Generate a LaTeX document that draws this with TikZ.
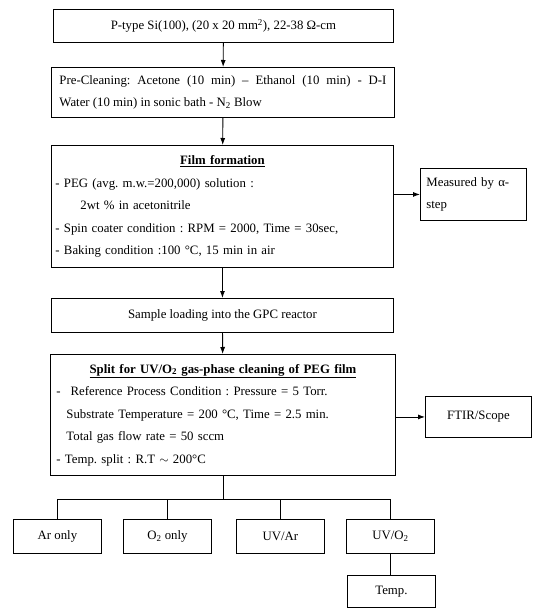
\documentclass[tikz,border=0pt]{standalone}
\usepackage{fontspec}
\setmainfont{Liberation Serif}
\usetikzlibrary{arrows.meta, positioning}

\begin{document}
\frenchspacing
\begin{tikzpicture}[x=1pt, y=-1pt,
    box/.style={draw, line width=0.9pt, inner sep=0pt, anchor=north west,
        font=\fontsize{12.8}{22.5}\selectfont},
    leaf/.style={box, minimum width=88pt, minimum height=34pt},
    flow/.style={-{Latex[length=7pt, width=5pt]}, line width=0.9pt}]
    \useasboundingbox (0,0) rectangle (538,609);

    % main column
    \node[box, minimum width=340pt, minimum height=33pt] (wafer) at (53,9)
        {P-type Si(100), (20 x 20 mm\textsuperscript{2}), 22-38 Ω-cm};
    \node[box, minimum width=343pt, minimum height=50pt, text width=327pt, align=justify] (preclean) at (51,67)
        {Pre-Cleaning: Acetone (10 min) -- Ethanol (10 min) - \mbox{D-I}\linebreak
         Water (10 min) in sonic bath - N\textsubscript{2} Blow};
    \node[box, minimum width=342pt, minimum height=122pt, text width=334pt, align=left] (film) at (51,145)
        {\makebox[334pt][c]{\textbf{\underline{Film formation}}}\\
         - PEG (avg. m.w.=200,000) solution :\\
         \hspace*{25pt}2wt \% in acetonitrile\\
         - Spin coater condition : RPM = 2000, Time = 30sec,\\
         - Baking condition :100 °C, 15 min in air};
    \node[box, minimum width=342pt, minimum height=34pt] (loading) at (51,298)
        {Sample loading into the GPC reactor};
    \node[box, minimum width=345pt, minimum height=121pt, text width=333pt, align=left] (split) at (50,354)
        {\makebox[333pt][c]{\textbf{\underline{Split for UV/O\textsubscript{2} gas-phase cleaning of PEG film}}}\\
         -\hspace{10pt}Reference Process Condition : Pressure = 5 Torr.\\
         \hspace*{10pt}Substrate Temperature = 200 °C, Time = 2.5 min.\\
         \hspace*{10pt}Total gas flow rate = 50 sccm\\
         - Temp. split : R.T $\sim$ 200°C};

    % side boxes
    \node[box, minimum width=106pt, minimum height=52pt, text width=94pt, align=left] (alpha) at (420,168)
        {Measured by α-\\ step};
    \node[box, minimum width=106pt, minimum height=41pt] (ftir) at (425,396) {FTIR/Scope};

    % split conditions
    \node[leaf] (ar) at (13,519) {Ar only};
    \node[leaf] (oxy) at (123,519) {O\textsubscript{2} only};
    \node[leaf] (uvar) at (236,519) {UV/Ar};
    \node[leaf] (uvox) at (346,519) {UV/O\textsubscript{2}};
    \node[leaf, minimum height=32pt] (temp) at (347,575) {Temp.};

    \draw[flow] (wafer) -- (preclean);
    \draw[flow] (preclean) -- (film);
    \draw[flow] (film) -- (loading);
    \draw[flow] (loading) -- (split);
    \draw[flow] (film.east |- alpha) -- (alpha);
    \draw[flow] (split.east |- ftir) -- (ftir);

    \coordinate (bus) at (split.south |- 0,499);
    \draw[line width=0.9pt] (split.south) -- (bus);
    \foreach \n in {ar, oxy, uvar, uvox}
        \draw[line width=0.9pt] (\n.north) |- (bus);
    \draw[line width=0.9pt] (uvox.south) -- (uvox.south |- temp.north);
\end{tikzpicture}
\end{document}
